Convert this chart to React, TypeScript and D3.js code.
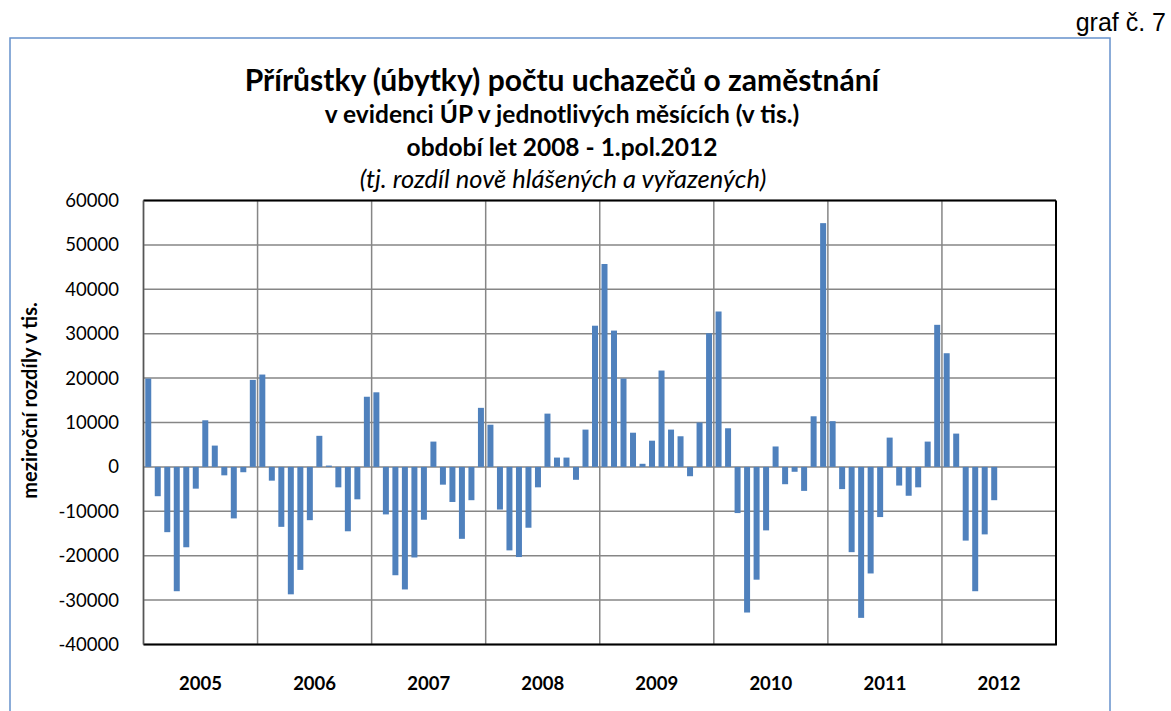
import React, { useEffect, useRef } from 'react';
import * as d3 from 'd3';

// monthly increments, Jan..Dec
const years = ['2005', '2006', '2007', '2008', '2009', '2010', '2011', '2012'];
const v2005 = [19900, -6600, -14700, -28000, -18100, -4900, 10500, 4800, -1900, -11600, -1200, 19600];
const v2006 = [20800, -3100, -13500, -28700, -23200, -12000, 7000, 300, -4600, -14500, -7300, 15800];
const v2007 = [16800, -10700, -24400, -27600, -20400, -11900, 5700, -4000, -7900, -16200, -7500, 13300];
const v2008 = [9500, -9600, -18800, -20300, -13700, -4600, 12000, 2100, 2100, -2900, 8400, 31800];
const v2009 = [45700, 30700, 19900, 7700, 700, 5900, 21700, 8400, 6900, -2100, 10000, 30100];
const v2010 = [35000, 8700, -10400, -32800, -25400, -14300, 4600, -3900, -1100, -5400, 11400, 54900];
const v2011 = [10300, -5000, -19200, -34000, -24000, -11300, 6600, -4200, -6500, -4600, 5700, 32000];
const v2012 = [25600, 7500, -16600, -28000, -15200, -7500];
const yTicks = [-40000, -30000, -20000, -10000, 0, 10000, 20000, 30000, 40000, 50000, 60000];

const titleLines = [
  'Přírůstky (úbytky) počtu uchazečů o zaměstnání',
  'v evidenci ÚP v jednotlivých měsících (v tis.)',
  'období let 2008 - 1.pol.2012',
];
const subTitle = '(tj. rozdíl nově hlášených a vyřazených)';

export default function App() {
  const svgRef = useRef<SVGSVGElement>(null);

  useEffect(() => {
    const W = 1171, H = 711;
    const left = 143.5, right = 1056, top = 200.5, bottom = 644.5;
    const font = 'Lato, "Open Sans", sans-serif';
    const grid = '#868686';

    const values = [v2005, v2006, v2007, v2008, v2009, v2010, v2011, v2012].flat();
    const months = d3.range(years.length * 12);

    const svg = d3.select(svgRef.current)
      .attr('width', W)
      .attr('height', H);
    svg.selectAll('*').remove();

    svg.append('rect').attr('width', W).attr('height', H).attr('fill', '#fff');

    // outer chart frame
    svg.append('rect')
      .attr('x', 10).attr('y', 38)
      .attr('width', 1100).attr('height', 700)
      .attr('fill', 'none')
      .attr('stroke', '#6691cc')
      .attr('stroke-width', 1.5);

    svg.append('text')
      .attr('x', 1166).attr('y', 31)
      .attr('text-anchor', 'end')
      .attr('font-family', 'Arial, "Liberation Sans", sans-serif')
      .attr('font-size', 25)
      .text('graf č. 7');

    const x = d3.scaleBand<number>().domain(months).range([left, right]).paddingInner(0.37).paddingOuter(0.185);
    const xYear = d3.scaleBand<string>().domain(years).range([left, right]);
    const y = d3.scaleLinear().domain([-40000, 60000]).range([bottom, top]);

    // titles
    const titleSizes = [30, 24.5, 24.5];
    const titleY = [91, 123, 156];
    titleLines.forEach((t, i) => {
      svg.append('text')
        .attr('x', 562).attr('y', titleY[i])
        .attr('text-anchor', 'middle')
        .attr('font-family', font)
        .attr('font-weight', 'bold')
        .attr('font-size', titleSizes[i])
        .text(t);
    });
    svg.append('text')
      .attr('x', 563).attr('y', 188)
      .attr('text-anchor', 'middle')
      .attr('font-family', font)
      .attr('font-style', 'italic')
      .attr('font-size', 25.5)
      .text(subTitle);

    // gridlines
    svg.append('g').selectAll('line.h')
      .data(yTicks)
      .join('line')
      .attr('x1', left).attr('x2', right)
      .attr('y1', (d) => y(d)).attr('y2', (d) => y(d))
      .attr('stroke', grid).attr('stroke-width', 1.5);

    svg.append('g').selectAll('line.v')
      .data(years)
      .join('line')
      .attr('x1', (d) => xYear(d)!).attr('x2', (d) => xYear(d)!)
      .attr('y1', top).attr('y2', bottom)
      .attr('stroke', grid).attr('stroke-width', 1.5);

    // bars
    svg.append('g').selectAll('rect')
      .data(values)
      .join('rect')
      .attr('x', (d, i) => x(i)!)
      .attr('width', x.bandwidth())
      .attr('y', (d) => y(Math.max(0, d)))
      .attr('height', (d) => Math.abs(y(d) - y(0)))
      .attr('fill', '#4f81bd');

    // plot border
    svg.append('line').attr('x1', left).attr('x2', right).attr('y1', top).attr('y2', top)
      .attr('stroke', '#000').attr('stroke-width', 2);
    svg.append('line').attr('x1', left).attr('x2', right + 1).attr('y1', bottom).attr('y2', bottom)
      .attr('stroke', '#000').attr('stroke-width', 2);
    svg.append('line').attr('x1', right).attr('x2', right).attr('y1', top).attr('y2', bottom)
      .attr('stroke', '#000').attr('stroke-width', 2);
    svg.append('line').attr('x1', left).attr('x2', left).attr('y1', top).attr('y2', bottom)
      .attr('stroke', '#555').attr('stroke-width', 1.5);

    // y labels
    svg.append('g').selectAll('text')
      .data(yTicks)
      .join('text')
      .attr('x', 119)
      .attr('y', (d) => y(d))
      .attr('dy', '0.35em')
      .attr('text-anchor', 'end')
      .attr('font-family', font)
      .attr('font-size', 18.5)
      .text((d) => String(d));

    // x labels
    svg.append('g').selectAll('text')
      .data(years)
      .join('text')
      .attr('x', (d) => xYear(d)! + xYear.bandwidth() / 2)
      .attr('y', 690)
      .attr('text-anchor', 'middle')
      .attr('font-family', font)
      .attr('font-weight', 'bold')
      .attr('font-size', 18.5)
      .text((d) => d);

    svg.append('text')
      .attr('transform', `translate(37,${(top + bottom) / 2 - 22}) rotate(-90)`)
      .attr('text-anchor', 'middle')
      .attr('font-family', font)
      .attr('font-weight', 'bold')
      .attr('font-size', 20)
      .text('meziroční rozdíly v tis.');
  }, []);

  return <svg ref={svgRef} style={{ position: 'absolute', left: 0, top: 0 }}></svg>;
}
